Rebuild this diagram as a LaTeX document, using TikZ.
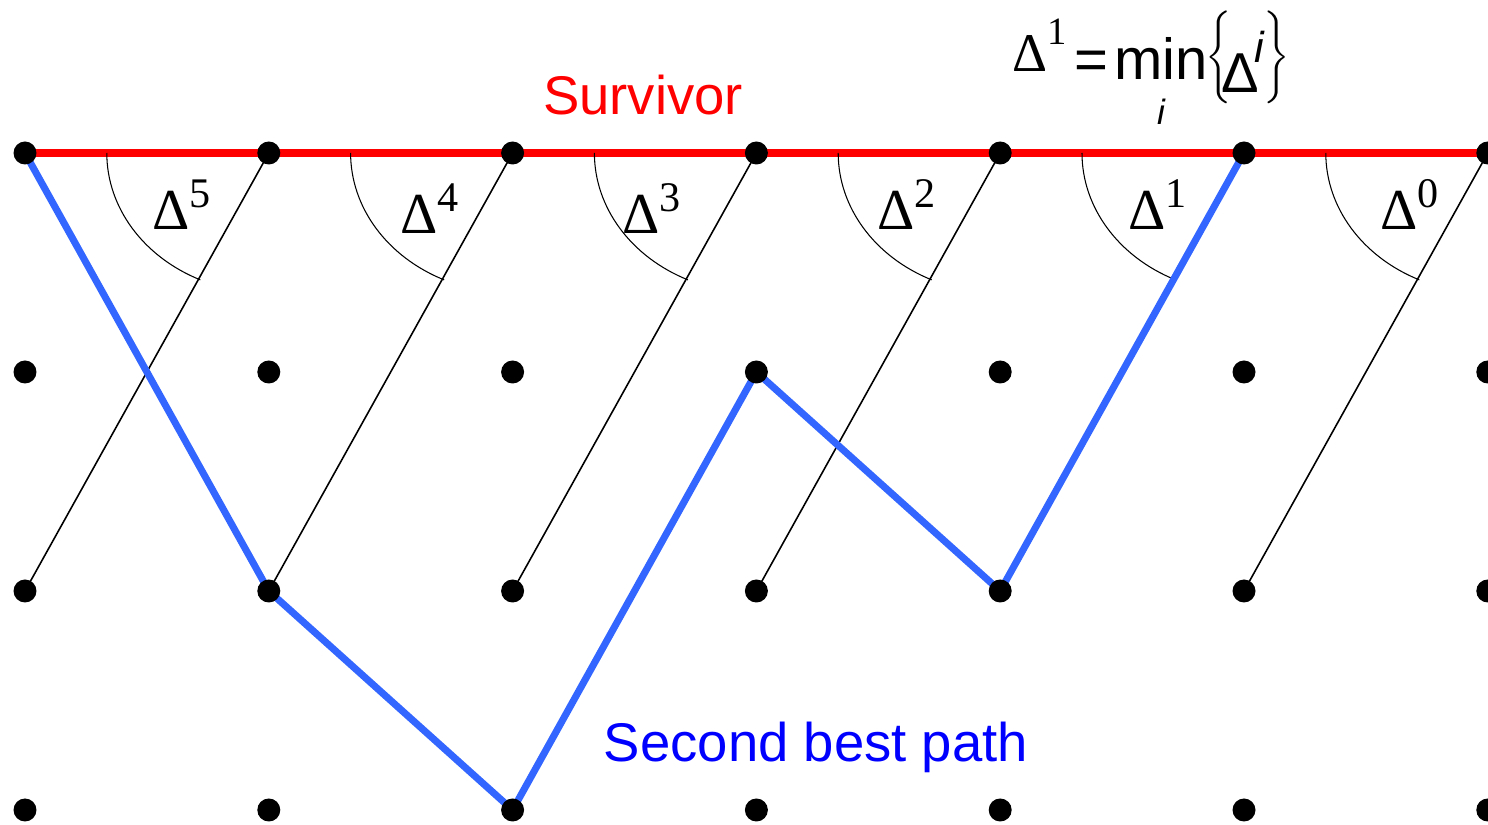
\documentclass[tikz,border=0pt]{standalone}
\usepackage{fontspec}
\setsansfont{Liberation Sans}
\newfontfamily\tnr{Liberation Serif}
\usetikzlibrary{backgrounds}
\definecolor{secondblue}{RGB}{51,102,255}

\begin{document}
\begin{tikzpicture}

% Set the overall look of the trellis
\tikzstyle{state} = [circle, fill, inner sep=0pt, minimum size=0.23cm]
\tikzstyle{survivor} = [red, line width=2.3pt]
\tikzstyle{second} = [secondblue, line width=2pt]
\tikzstyle{branch} = [black, line width=0.45pt]
\tikzstyle{angle} = [black, line width=0.3pt]
\tikzstyle{delta} = [anchor=base west, inner sep=0pt, font=\tnr\fontsize{16.5}{17}\selectfont]
\tikzstyle{caption} = [anchor=base, inner sep=0pt, font=\sffamily\fontsize{15.5}{16}\selectfont]

\useasboundingbox (0,0) rectangle (14.88,8.25);

% States: column i, row j
\foreach \i in {0,...,6}
    \foreach \j in {0,...,3}
        \node[state] (n-\i-\j) at ({0.25+2.438*\i},{6.72-2.19*\j}) {};

% Paths go under the states
\begin{scope}[on background layer]
    \draw[survivor] (n-0-0.center) -- (n-6-0.center);
    \foreach \i in {0,...,5} {
        \pgfmathtruncatemacro{\k}{\i+1}
        \draw[branch] (n-\i-2.center) -- (n-\k-0.center);
        \draw[angle] ([xshift=-1.62cm]n-\k-0.center)
            arc[start angle=180, end angle=245, x radius=1.62cm, y radius=1.40cm];
    }
    \draw[second] (n-0-0.center) -- (n-1-2.center) -- (n-2-3.center)
        -- (n-3-1.center) -- (n-4-2.center) -- (n-5-0.center);
\end{scope}

% Metric differences
\foreach \d/\x/\y in {5/1.52/5.95, 4/4.00/5.91, 3/6.22/5.91, 2/8.77/5.95, 1/11.28/5.95, 0/13.80/5.95}
    \node[delta] (d-\d) at (\x,\y) {Δ\raisebox{6.5pt}{\fontsize{12}{12}\selectfont \d}};

\node[caption, red] (survivor) at (6.43,7.10) {Survivor};
\node[caption, blue] (second) at (8.16,0.63) {Second best path};

% Minimum over all differences
\node[anchor=base west, inner sep=0pt, font=\sffamily\fontsize{16.5}{18}\selectfont] (minrule) at (10.12,7.45) {%
    \raisebox{2.3pt}{\fontsize{15.5}{15}\selectfont\tnr Δ}%
    \raisebox{10pt}{\fontsize{11}{11}\selectfont\tnr 1}%
    \hspace{2pt}=\hspace{1.8pt}%
    \sbox0{min}\usebox0\llap{\makebox[\wd0]{\raisebox{-12.8pt}{\fontsize{10}{10}\selectfont\itshape i}}}%
    \hspace{-0.5pt}\raisebox{3.8pt}{\scalebox{1}[1.1]{\fontsize{10}{12}\selectfont$\bigg\{$}}%
    \hspace{-3pt}\raisebox{-3.7pt}{\fontsize{16}{16}\selectfont Δ}%
    \hspace{-1.5pt}\raisebox{5pt}{\fontsize{12.3}{12}\selectfont\itshape i}%
    \raisebox{3.8pt}{\scalebox{1}[1.1]{\fontsize{10}{12}\selectfont$\bigg\}$}}};

\end{tikzpicture}
\end{document}
